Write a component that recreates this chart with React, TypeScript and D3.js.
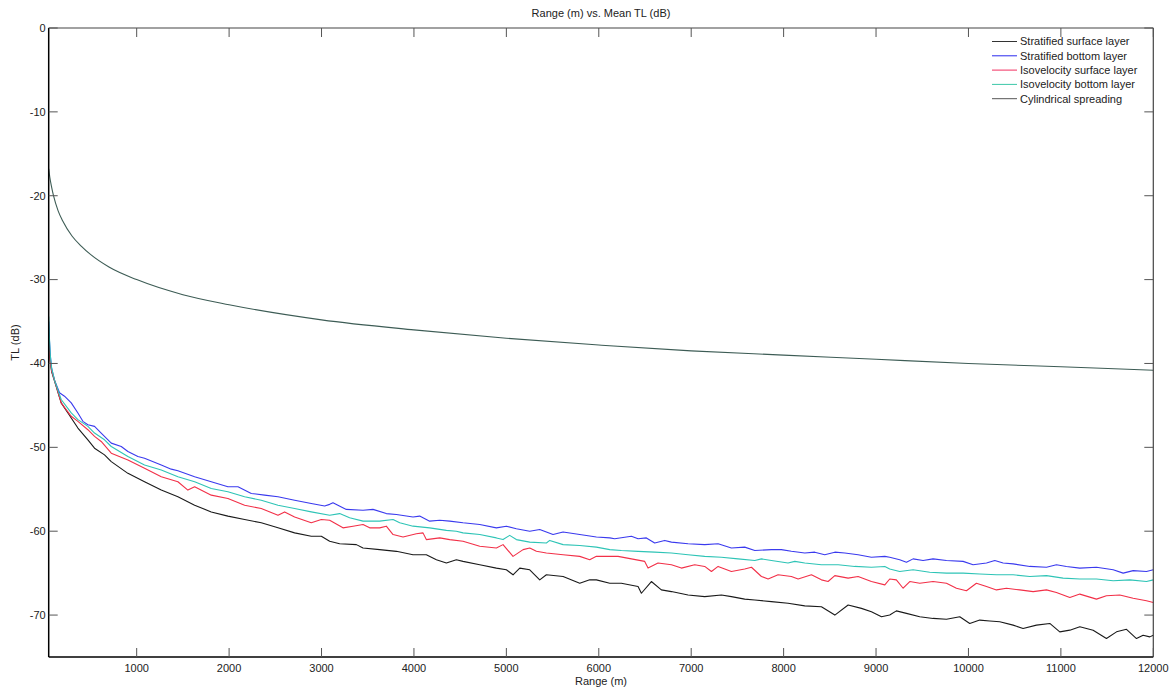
import React from "react";
import * as d3 from "d3";

type Pt = [number, number];

const TITLE = "Range (m) vs. Mean TL (dB)";
const X_LABEL = "Range (m)";
const Y_LABEL = "TL (dB)";
const X_TICKS = [1000, 2000, 3000, 4000, 5000, 6000, 7000, 8000, 9000, 10000, 11000, 12000];
const Y_TICKS = [0, -10, -20, -30, -40, -50, -60, -70];

const STRATIFIED_SURFACE: Pt[] = [[48,-37.0],[55,-38.5],[65,-39.8],[80,-41.0],[111,-42.1],[183,-44.7],[256,-45.9],[364,-47.7],[472,-49.1],[544,-50.1],[652,-50.9],[725,-51.7],[905,-53.1],[1085,-54.1],[1266,-55.1],[1446,-55.9],[1627,-56.9],[1807,-57.7],[1987,-58.2],[2168,-58.6],[2348,-59.0],[2529,-59.6],[2709,-60.2],[2889,-60.6],[2998,-60.6],[3088,-61.2],[3196,-61.5],[3377,-61.6],[3449,-62.0],[3629,-62.2],[3810,-62.4],[3990,-62.8],[4134,-62.8],[4243,-63.4],[4351,-63.8],[4459,-63.4],[4531,-63.6],[4712,-64.0],[4892,-64.4],[5000,-64.6],[5072,-65.2],[5145,-64.4],[5253,-64.6],[5361,-65.8],[5433,-65.2],[5614,-65.4],[5794,-66.2],[5902,-65.8],[5974,-65.8],[6119,-66.2],[6244,-66.2],[6425,-66.6],[6461,-67.4],[6569,-66.0],[6677,-67.0],[6786,-67.2],[6966,-67.6],[7146,-67.8],[7327,-67.6],[7435,-67.8],[7579,-68.1],[7688,-68.2],[7868,-68.4],[8048,-68.6],[8229,-68.9],[8409,-69.0],[8554,-70.0],[8698,-68.8],[8842,-69.2],[8950,-69.6],[9059,-70.2],[9148,-70.0],[9220,-69.5],[9329,-69.8],[9473,-70.2],[9617,-70.4],[9762,-70.5],[9906,-70.2],[10014,-71.0],[10122,-70.6],[10231,-70.7],[10339,-70.8],[10483,-71.2],[10591,-71.6],[10736,-71.2],[10880,-71.0],[10988,-72.0],[11097,-71.8],[11205,-71.4],[11349,-71.8],[11493,-72.8],[11602,-72.0],[11710,-71.7],[11818,-72.8],[11890,-72.4],[11962,-72.6],[12000,-72.4]];

const STRATIFIED_BOTTOM: Pt[] = [[48,-35.0],[55,-37.0],[65,-39.0],[80,-40.6],[111,-42.0],[165,-43.5],[219,-43.9],[292,-44.7],[364,-45.9],[418,-46.9],[472,-47.3],[544,-47.5],[616,-48.3],[725,-49.5],[833,-49.9],[905,-50.5],[1013,-51.1],[1085,-51.3],[1266,-52.1],[1374,-52.6],[1446,-52.8],[1627,-53.5],[1807,-54.1],[1987,-54.7],[2096,-54.7],[2240,-55.5],[2384,-55.7],[2529,-55.9],[2709,-56.3],[2889,-56.7],[3034,-57.0],[3088,-56.8],[3124,-56.6],[3268,-57.4],[3449,-57.5],[3557,-57.4],[3701,-57.9],[3810,-58.0],[3990,-58.3],[4062,-58.2],[4170,-58.8],[4279,-58.7],[4387,-58.8],[4531,-59.0],[4712,-59.2],[4892,-59.6],[5000,-59.4],[5108,-59.7],[5253,-60.0],[5361,-59.8],[5505,-60.4],[5614,-60.1],[5794,-60.4],[5974,-60.7],[6119,-60.8],[6172,-60.9],[6353,-60.6],[6425,-60.9],[6515,-60.8],[6605,-61.4],[6713,-61.1],[6786,-61.3],[6966,-61.5],[7146,-61.6],[7291,-61.5],[7435,-62.0],[7579,-61.9],[7688,-62.3],[7868,-62.2],[7976,-62.2],[8084,-62.4],[8229,-62.6],[8337,-62.5],[8445,-62.8],[8554,-62.5],[8662,-62.6],[8806,-62.8],[8950,-63.1],[9095,-63.0],[9148,-63.1],[9256,-63.4],[9329,-63.7],[9401,-63.3],[9509,-63.5],[9617,-63.3],[9762,-63.5],[9942,-63.6],[10050,-64.0],[10195,-63.8],[10285,-63.5],[10375,-63.8],[10483,-63.9],[10664,-64.2],[10844,-64.3],[10952,-64.0],[11060,-64.2],[11205,-64.4],[11385,-64.3],[11566,-64.6],[11674,-65.0],[11782,-64.7],[11926,-64.8],[12000,-64.6]];

const ISOVELOCITY_SURFACE: Pt[] = [[48,-37.3],[55,-38.6],[65,-39.8],[80,-40.9],[111,-42.0],[183,-44.7],[292,-46.3],[364,-46.9],[472,-47.9],[544,-48.7],[616,-49.3],[725,-50.7],[905,-51.5],[1085,-52.5],[1266,-53.5],[1446,-54.1],[1554,-55.1],[1627,-54.7],[1807,-55.7],[1987,-56.1],[2168,-56.9],[2348,-57.3],[2529,-58.1],[2601,-57.7],[2709,-58.3],[2889,-59.0],[2998,-58.6],[3088,-58.7],[3232,-59.6],[3341,-59.4],[3449,-59.2],[3521,-59.6],[3629,-59.6],[3701,-59.4],[3774,-60.4],[3882,-60.7],[4026,-60.3],[4098,-60.2],[4134,-61.0],[4279,-60.8],[4387,-61.0],[4531,-61.2],[4712,-61.8],[4892,-62.0],[4964,-61.6],[5072,-63.0],[5181,-62.2],[5253,-62.0],[5325,-62.4],[5433,-62.6],[5614,-62.8],[5794,-63.0],[5902,-63.4],[5974,-63.0],[6119,-63.0],[6208,-63.0],[6353,-63.3],[6497,-63.6],[6533,-64.4],[6641,-63.8],[6786,-64.0],[6894,-64.4],[7038,-64.0],[7146,-64.2],[7219,-64.8],[7291,-64.2],[7435,-64.8],[7579,-64.5],[7652,-64.3],[7760,-65.4],[7832,-65.7],[7940,-65.2],[8084,-65.4],[8157,-65.7],[8301,-65.2],[8409,-65.8],[8481,-66.0],[8554,-65.3],[8698,-65.6],[8806,-65.4],[8950,-66.0],[9095,-66.4],[9148,-65.7],[9220,-65.8],[9293,-66.8],[9365,-66.0],[9473,-66.2],[9617,-66.0],[9762,-66.2],[9870,-66.8],[9978,-67.1],[10086,-66.2],[10195,-66.6],[10303,-67.0],[10411,-66.8],[10555,-67.0],[10700,-67.2],[10844,-67.0],[10952,-67.3],[11097,-67.9],[11205,-67.5],[11385,-68.1],[11493,-67.7],[11638,-67.6],[11782,-68.0],[11926,-68.3],[12000,-68.5]];

const ISOVELOCITY_BOTTOM: Pt[] = [[48,-34.4],[55,-36.8],[65,-39.0],[80,-40.6],[111,-42.0],[183,-44.3],[292,-45.9],[364,-46.7],[472,-47.5],[544,-48.3],[652,-49.1],[725,-49.9],[905,-51.1],[1085,-52.1],[1266,-52.7],[1446,-53.5],[1627,-54.1],[1807,-54.9],[1987,-55.3],[2168,-55.9],[2348,-56.3],[2529,-56.9],[2709,-57.3],[2889,-57.7],[3088,-58.1],[3196,-57.9],[3304,-58.4],[3449,-58.8],[3629,-58.8],[3774,-58.6],[3846,-59.0],[3990,-59.4],[4170,-59.6],[4351,-59.9],[4459,-60.0],[4531,-60.2],[4712,-60.4],[4892,-60.8],[4964,-61.0],[5036,-60.5],[5108,-61.0],[5253,-61.3],[5433,-61.4],[5469,-61.1],[5614,-61.6],[5794,-61.7],[5974,-61.9],[6119,-62.2],[6244,-62.3],[6425,-62.4],[6605,-62.5],[6786,-62.6],[6966,-62.8],[7146,-63.0],[7327,-63.1],[7507,-63.3],[7688,-63.5],[7760,-63.3],[7868,-63.5],[8048,-63.8],[8121,-63.6],[8229,-63.8],[8409,-64.0],[8590,-64.0],[8770,-64.2],[8950,-64.3],[9095,-64.2],[9148,-64.5],[9256,-64.8],[9401,-64.6],[9581,-64.9],[9762,-65.0],[9942,-65.0],[10122,-65.1],[10303,-65.2],[10483,-65.2],[10664,-65.4],[10844,-65.3],[11024,-65.6],[11205,-65.7],[11385,-65.7],[11566,-65.9],[11746,-65.8],[11926,-66.0],[12000,-65.8]];

const CYLINDRICAL: Pt[] = [[48,-16.8],[60,-17.8],[80,-19.0],[100,-20.0],[150,-21.8],[200,-23.0],[300,-24.8],[400,-26.0],[500,-27.0],[700,-28.5],[1000,-30.0],[1500,-31.8],[2000,-33.0],[3000,-34.8],[4000,-36.0],[5000,-37.0],[6000,-37.8],[7000,-38.5],[8000,-39.0],[9000,-39.5],[10000,-40.0],[11000,-40.4],[12000,-40.8]];

const SERIES_NAMES = ["Stratified surface layer", "Stratified bottom layer", "Isovelocity surface layer", "Isovelocity bottom layer", "Cylindrical spreading"];
const SERIES_DATA = [STRATIFIED_SURFACE, STRATIFIED_BOTTOM, ISOVELOCITY_SURFACE, ISOVELOCITY_BOTTOM, CYLINDRICAL];
const SERIES_COLORS = ["#1a1a1a", "#3a3aee", "#f23048", "#2ec4b6", "#3d5c55"];
const LEGEND_COLORS = ["#333333", "#2a2aee", "#f23060", "#3cc8a8", "#555555"];

const W = 1175;
const H = 689;
const L = 48.7, R = 1153.3, T = 28, B = 657;
const FONT = "'Liberation Sans', Arial, Helvetica, sans-serif";

export default function App() {
  const x = d3.scaleLinear().domain([48, 12000]).range([L, R]);
  const y = d3.scaleLinear().domain([0, -75]).range([T, B]);
  const line = d3.line<Pt>().x((d) => x(d[0])).y((d) => y(d[1]));
  const smooth = d3.line<Pt>().x((d) => x(d[0])).y((d) => y(d[1])).curve(d3.curveMonotoneX);
  const tickLen = 9;
  const legendY0 = 41.5;
  const legendStep = 14.3;

  return (
    <svg width={W} height={H} style={{ position: "absolute", left: 0, top: 0, background: "#fff" }} fontFamily={FONT}>
      <rect x={0} y={0} width={W} height={H} fill="#fff" />
      <text x={(L + R) / 2} y={17} textAnchor="middle" fontSize={11} fill="#222">{TITLE}</text>
      {/* data lines */}
      {SERIES_DATA.map((data, i) => (
        <path key={i} d={(i === 4 ? smooth : line)(data) || ""} fill="none" stroke={SERIES_COLORS[i]} strokeWidth={1.1} strokeLinejoin="round" />
      ))}
      {/* frame */}
      <line x1={L} x2={R} y1={T} y2={T} stroke="#444" strokeWidth={1.2} />
      <line x1={R} x2={R} y1={T} y2={B} stroke="#444" strokeWidth={1.2} />
      <line x1={L} x2={L} y1={T} y2={B} stroke="#000" strokeWidth={1.5} />
      <line x1={L} x2={R} y1={B} y2={B} stroke="#000" strokeWidth={1.5} />
      {/* x ticks */}
      {X_TICKS.map((t) => (
        <g key={"x" + t}>
          <line x1={x(t)} x2={x(t)} y1={B} y2={B - tickLen} stroke="#555" strokeWidth={1} />
          <line x1={x(t)} x2={x(t)} y1={T} y2={T + tickLen} stroke="#555" strokeWidth={1} />
          <text x={x(t)} y={B + 15} textAnchor="middle" fontSize={11} fill="#222">{t}</text>
        </g>
      ))}
      {/* y ticks */}
      {Y_TICKS.map((t) => (
        <g key={"y" + t}>
          <line x1={L} x2={L + tickLen} y1={y(t)} y2={y(t)} stroke="#555" strokeWidth={1} />
          <line x1={R} x2={R - tickLen} y1={y(t)} y2={y(t)} stroke="#555" strokeWidth={1} />
          <text x={L - 3} y={y(t)} dy="0.35em" textAnchor="end" fontSize={11} fill="#222">{String(t)}</text>
        </g>
      ))}
      <text x={(L + R) / 2} y={685} textAnchor="middle" fontSize={11} fill="#222">{X_LABEL}</text>
      <text transform={`translate(19,${(T + B) / 2}) rotate(-90)`} textAnchor="middle" fontSize={11} fill="#222">{Y_LABEL}</text>
      {/* legend */}
      {SERIES_NAMES.map((n, i) => (
        <g key={n}>
          <line x1={992} x2={1017} y1={legendY0 + i * legendStep} y2={legendY0 + i * legendStep} stroke={LEGEND_COLORS[i]} strokeWidth={1} />
          <text x={1020} y={legendY0 + i * legendStep} dy="0.35em" fontSize={11} fill="#222">{n}</text>
        </g>
      ))}
    </svg>
  );
}
